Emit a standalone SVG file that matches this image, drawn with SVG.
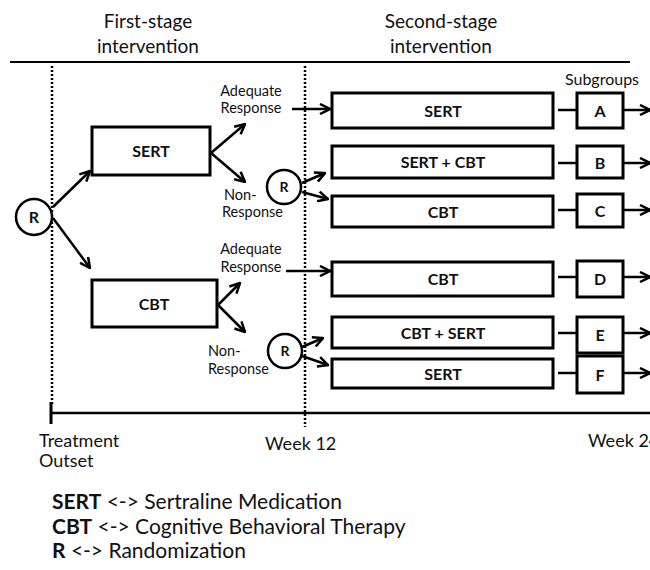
<svg xmlns="http://www.w3.org/2000/svg" width="650" height="570" viewBox="0 0 650 570">
<defs>
<marker id="ah" viewBox="0 0 12 12" refX="11" refY="6" markerWidth="12" markerHeight="12" markerUnits="userSpaceOnUse" orient="auto">
<path d="M1,1 L11,6 L1,11" fill="none" stroke="#000" stroke-width="2.5"/>
</marker>
<style>
text{font-family:Lato,"Open Sans","Liberation Sans",sans-serif;fill:#111}
.t{font-size:19px;text-anchor:middle}
.s{font-size:14.5px}
.w{font-size:18px}
.b{font-size:16px;font-weight:bold;text-anchor:middle}
.box{fill:#fff;stroke:#000;stroke-width:3}
.c{fill:#fff;stroke:#000;stroke-width:2.5}
.a{stroke:#000;stroke-width:2.5;fill:none;marker-end:url(#ah)}
.l{stroke:#000;stroke-width:2.5;fill:none}
.dot{stroke:#000;stroke-width:2.5;stroke-dasharray:2 2;fill:none}
.lg{font-size:21px}
</style>
</defs>
<rect width="650" height="570" fill="#fff"/>
<g id="titles">
<text class="t" x="148" y="28">First-stage</text>
<text class="t" x="148" y="53">intervention</text>
<text class="t" x="441" y="28">Second-stage</text>
<text class="t" x="441" y="53">intervention</text>
<line x1="10" y1="62" x2="630" y2="62" stroke="#000" stroke-width="2"/>
<text x="602" y="85" text-anchor="middle" style="font-size:16px">Subgroups</text>
</g>
<g id="timeline">
<line class="dot" x1="52" y1="66" x2="52" y2="404"/>
<line class="dot" x1="305" y1="66" x2="305" y2="427"/>
<line x1="51" y1="413" x2="650" y2="413" stroke="#000" stroke-width="2.5"/>
<line x1="51" y1="402" x2="51" y2="424" stroke="#000" stroke-width="3"/>
<text class="w" x="39" y="447">Treatment</text>
<text class="w" x="39" y="467">Outset</text>
<text class="w" x="265" y="450">Week 12</text>
<text class="w" x="588" y="447">Week 24</text>
</g>
<g id="connectors">
<line class="a" x1="53" y1="207" x2="90" y2="171"/>
<line class="a" x1="53" y1="218" x2="90" y2="268"/>
<line class="a" x1="211" y1="153" x2="245" y2="124"/>
<line class="a" x1="211" y1="153" x2="245" y2="182"/>
<line class="a" x1="218" y1="305" x2="240" y2="283"/>
<line class="a" x1="218" y1="305" x2="245" y2="332"/>
<line class="a" x1="292" y1="109" x2="330" y2="109"/>
<line class="a" x1="286" y1="271" x2="330" y2="271"/>
<line class="a" x1="302" y1="183" x2="325" y2="173"/>
<line class="a" x1="302" y1="192" x2="328" y2="199"/>
<line class="a" x1="302" y1="347" x2="323" y2="338"/>
<line class="a" x1="302" y1="356" x2="328" y2="365"/>
<line class="l" x1="558" y1="110" x2="577" y2="110"/>
<line class="l" x1="558" y1="163" x2="577" y2="163"/>
<line class="l" x1="558" y1="210" x2="577" y2="210"/>
<line class="l" x1="558" y1="277" x2="577" y2="277"/>
<line class="l" x1="558" y1="333" x2="577" y2="333"/>
<line class="l" x1="558" y1="373" x2="577" y2="373"/>
<line class="a" x1="623" y1="110" x2="650" y2="110"/>
<line class="a" x1="623" y1="163" x2="650" y2="163"/>
<line class="a" x1="623" y1="210" x2="650" y2="210"/>
<line class="a" x1="623" y1="277" x2="650" y2="277"/>
<line class="a" x1="623" y1="333" x2="650" y2="333"/>
<line class="a" x1="623" y1="373" x2="650" y2="373"/>
</g>
<g id="labels">
<text class="s" x="251" y="96" text-anchor="middle">Adequate</text>
<text class="s" x="251" y="113" text-anchor="middle">Response</text>
<text class="s" x="224" y="200">Non-</text>
<text class="s" x="222" y="217">Response</text>
<text class="s" x="251" y="254" text-anchor="middle">Adequate</text>
<text class="s" x="251" y="272" text-anchor="middle">Response</text>
<text class="s" x="208" y="356">Non-</text>
<text class="s" x="208" y="374">Response</text>
</g>
<g id="R0"><circle class="c" cx="34" cy="217" r="18"/><text class="b" x="34" y="223">R</text></g>
<g id="R1"><circle class="c" cx="284" cy="187" r="17"/><text class="b" x="284" y="192" style="font-size:14px">R</text></g>
<g id="R2"><circle class="c" cx="285" cy="351" r="17"/><text class="b" x="285" y="356" style="font-size:14px">R</text></g>
<g id="sert1"><rect class="box" x="92" y="127" width="118" height="48"/><text class="b" x="151" y="157">SERT</text></g>
<g id="cbt1"><rect class="box" x="92" y="280" width="125" height="47"/><text class="b" x="154" y="310">CBT</text></g>
<g id="s2a"><rect class="box" x="332" y="93" width="221" height="35"/><text class="b" x="443" y="117">SERT</text></g>
<g id="s2b"><rect class="box" x="332" y="146" width="221" height="32"/><text class="b" x="443" y="168">SERT + CBT</text></g>
<g id="s2c"><rect class="box" x="332" y="196" width="221" height="31"/><text class="b" x="443" y="218">CBT</text></g>
<g id="s2d"><rect class="box" x="332" y="262" width="221" height="34"/><text class="b" x="443" y="285">CBT</text></g>
<g id="s2e"><rect class="box" x="332" y="317" width="221" height="31"/><text class="b" x="443" y="339">CBT + SERT</text></g>
<g id="s2f"><rect class="box" x="332" y="359" width="221" height="29"/><text class="b" x="443" y="380">SERT</text></g>
<g id="gA"><rect class="box" x="577" y="93" width="46" height="35"/><text class="b" x="600" y="117">A</text></g>
<g id="gB"><rect class="box" x="577" y="146" width="46" height="32"/><text class="b" x="600" y="169">B</text></g>
<g id="gC"><rect class="box" x="577" y="194" width="46" height="33"/><text class="b" x="600" y="217">C</text></g>
<g id="gD"><rect class="box" x="577" y="261" width="46" height="36"/><text class="b" x="600" y="285">D</text></g>
<g id="gE"><rect class="box" x="577" y="317" width="46" height="36"/><text class="b" x="600" y="341">E</text></g>
<g id="gF"><rect class="box" x="577" y="356" width="46" height="37"/><text class="b" x="600" y="381">F</text></g>
<g id="legend">
<text class="lg" x="52" y="509"><tspan font-weight="bold">SERT</tspan> &lt;-&gt; Sertraline Medication</text>
<text class="lg" x="52" y="534"><tspan font-weight="bold">CBT</tspan> &lt;-&gt; Cognitive Behavioral Therapy</text>
<text class="lg" x="52" y="558"><tspan font-weight="bold">R</tspan> &lt;-&gt; Randomization</text>
</g>
</svg>
